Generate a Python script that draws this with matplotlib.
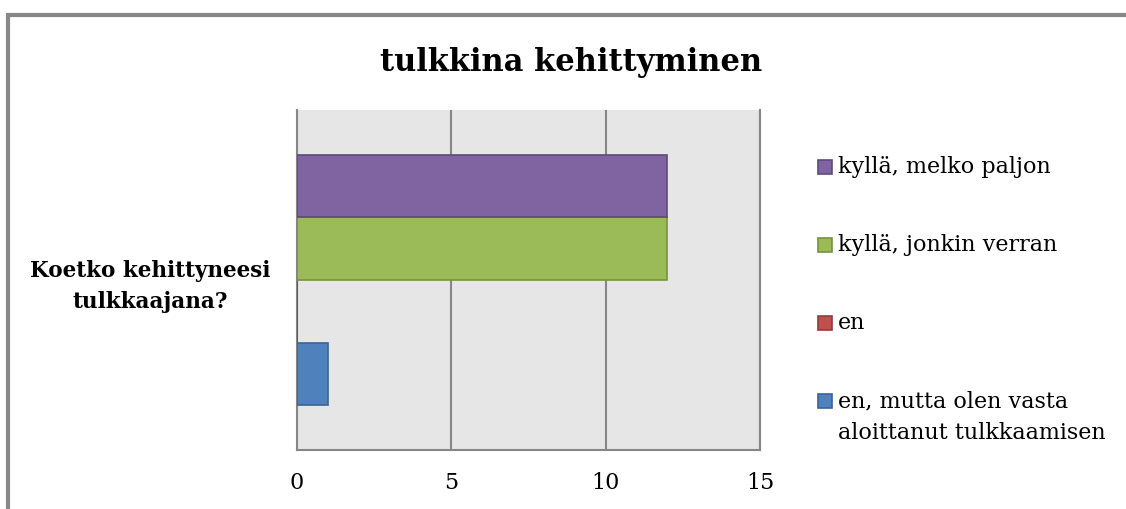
import matplotlib
matplotlib.use("Agg")
import matplotlib.pyplot as plt
from matplotlib.patches import Rectangle

# --- Data ---
TITLE = "tulkkina kehittyminen"
CATEGORY = "Koetko kehittyneesi\ntulkkaajana?"
SERIES = ["en, mutta olen vasta\naloittanut tulkkaamisen", "en",
          "kyllä, jonkin verran", "kyllä, melko paljon"]
VALUES = [1, 0, 12, 12]
COLORS = ["#4F81BD", "#C0504D", "#9BBB59", "#8064A2"]
EDGES = ["#3A6496", "#933C3A", "#76923C", "#5E4A7A"]
X_TICKS = [0, 5, 10, 15]

W, H = 1126, 509
plt.rcParams["font.family"] = ["DejaVu Serif"]

fig = plt.figure(figsize=(W / 100, H / 100), dpi=100)
fig.patch.set_facecolor("white")

# outer chart border
fig.patches.append(Rectangle((8 / W, -0.1), 1.2, (H - 15) / H + 0.1,
                             transform=fig.transFigure, fill=False,
                             edgecolor="#878787", linewidth=3))

ax = fig.add_axes([297 / W, (H - 450) / H, 463 / W, 340 / H])
ax.set_facecolor("#E6E6E6")

bar_h = 0.184
n = len(SERIES)
for i, (name, val) in enumerate(zip(SERIES, VALUES)):
    y = (i - (n - 1) / 2) * bar_h
    ax.barh(y, val, height=bar_h, color=COLORS[i], edgecolor=EDGES[i],
            linewidth=1.2, label=name, zorder=3)

ax.set_xlim(0, 15)
ax.set_ylim(-0.5, 0.5)
ax.set_xticks(X_TICKS)
ax.set_xticklabels([str(t) for t in X_TICKS], fontsize=16)
ax.set_yticks([0])
ax.set_yticklabels([CATEGORY], fontsize=15.5, fontweight="bold",
                   multialignment="center", linespacing=1.5)
ax.tick_params(axis="both", length=0)
ax.tick_params(axis="x", pad=16)
ax.tick_params(axis="y", pad=19)
ax.xaxis.grid(True, color="#868686", linewidth=1.5, zorder=1)
ax.set_axisbelow(True)
ax.spines["top"].set_visible(False)
for s in ["left", "bottom", "right"]:
    ax.spines[s].set_color("#868686")
    ax.spines[s].set_linewidth(1.5)

fig.text(571 / W, 1 - 63 / H, TITLE, ha="center", va="center",
         fontsize=22, fontweight="bold")

# legend, top to bottom (reverse of bar order)
row_y = 167
for name, c, e in zip(SERIES[::-1], COLORS[::-1], EDGES[::-1]):
    fig.patches.append(Rectangle((818 / W, 1 - (row_y + 7) / H), 14 / W, 14 / H,
                                 transform=fig.transFigure, facecolor=c,
                                 edgecolor=e, linewidth=1.2))
    for j, line in enumerate(name.split("\n")):
        fig.text(838 / W, 1 - (row_y + j * 32) / H, line, ha="left",
                 va="center", fontsize=16)
    row_y += 78

fig.savefig("out.png", dpi=100)
